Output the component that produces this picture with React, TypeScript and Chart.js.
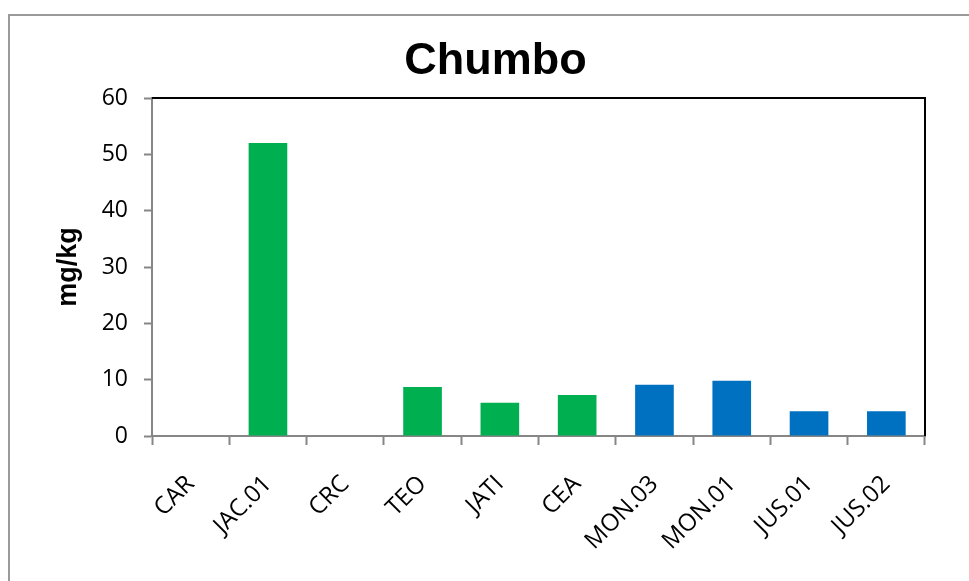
import React, { useEffect, useRef } from "react";
import { Chart, registerables } from "chart.js";

Chart.register(...registerables);

// Lead (chumbo) concentration per sampling site, in mg/kg
const sites = ["CAR", "JAC.01", "CRC", "TEO", "JATI", "CEA", "MON.03", "MON.01", "JUS.01", "JUS.02"];
const leadValues = [0, 52, 0, 8.7, 5.9, 7.3, 9.1, 9.8, 4.4, 4.4];
const siteGroups = ["g", "g", "g", "g", "g", "g", "b", "b", "b", "b"];
const yTicks = [0, 10, 20, 30, 40, 50, 60];

const GREEN = "#00B050";
const BLUE = "#0070C0";
const AXIS_GRAY = "#868686";

const W = 969;
const H = 581;

const framePlugin = {
  id: "frame",
  beforeDraw(chart: any) {
    const { ctx } = chart;
    ctx.save();
    ctx.fillStyle = "#ffffff";
    ctx.fillRect(0, 0, chart.width, chart.height);
    ctx.strokeStyle = "#9a9a9a";
    ctx.lineWidth = 2;
    ctx.strokeRect(9, 15, chart.width + 20, chart.height + 20);
    ctx.restore();
  },
  afterDraw(chart: any) {
    const { ctx, chartArea } = chart;
    ctx.save();
    ctx.strokeStyle = "#000000";
    ctx.lineWidth = 2;
    ctx.beginPath();
    ctx.moveTo(chartArea.left, chartArea.top);
    ctx.lineTo(chartArea.right, chartArea.top);
    ctx.lineTo(chartArea.right, chartArea.bottom);
    ctx.stroke();
    ctx.restore();
  },
};

export default function App() {
  const canvasRef = useRef<HTMLCanvasElement | null>(null);

  useEffect(() => {
    if (!canvasRef.current) return;
    const chart = new Chart(canvasRef.current, {
      type: "bar",
      data: {
        labels: sites,
        datasets: [
          {
            label: "Chumbo",
            data: leadValues,
            backgroundColor: siteGroups.map((g) => (g === "g" ? GREEN : BLUE)),
            borderWidth: 0,
            categoryPercentage: 1,
            barPercentage: 0.5,
          },
        ],
      },
      options: {
        responsive: false,
        animation: false,
        devicePixelRatio: 1,
        layout: { padding: { left: 66, right: W - 925, top: 0, bottom: 0 } },
        plugins: {
          legend: { display: false },
          tooltip: { enabled: false },
          title: {
            display: true,
            text: "Chumbo",
            color: "#000000",
            font: { family: "'Liberation Sans', Arial, sans-serif", size: 45, weight: "bold", lineHeight: 1.2 },
            padding: { top: 35, bottom: 9 },
          },
        },
        scales: {
          x: {
            afterFit: (scale: any) => {
              scale.height = H - 436;
            },
            grid: {
              display: true,
              offset: true,
              drawOnChartArea: false,
              drawTicks: true,
              tickLength: 9,
              color: AXIS_GRAY,
              tickColor: AXIS_GRAY,
              tickWidth: 2,
            },
            border: { display: true, color: AXIS_GRAY, width: 2 },
            ticks: {
              autoSkip: false,
              minRotation: 45,
              maxRotation: 45,
              padding: 25,
              color: "#000000",
              font: { family: "'Open Sans', sans-serif", size: 24 },
            },
          },
          y: {
            min: 0,
            max: 60,
            afterFit: (scale: any) => {
              scale.width = 86;
            },
            afterBuildTicks: (scale: any) => {
              scale.ticks = yTicks.map((v) => ({ value: v }));
            },
            grid: {
              display: true,
              drawOnChartArea: false,
              drawTicks: true,
              tickLength: 8,
              color: AXIS_GRAY,
              tickColor: AXIS_GRAY,
              tickWidth: 2,
            },
            border: { display: true, color: AXIS_GRAY, width: 2 },
            ticks: {
              padding: 16,
              color: "#000000",
              font: { family: "'Open Sans', sans-serif", size: 23 },
            },
            title: {
              display: true,
              text: "mg/kg",
              color: "#000000",
              font: { family: "'Liberation Sans', Arial, sans-serif", size: 27, weight: "bold", lineHeight: 1 },
              padding: { top: -11, bottom: 0 },
            },
          },
        },
      },
      plugins: [framePlugin],
    });
    return () => chart.destroy();
  }, []);

  return (
    <div style={{ position: "fixed", left: 0, top: 0, width: W, height: H, background: "#fff" }}>
      <canvas ref={canvasRef} width={W} height={H} style={{ display: "block" }} />
    </div>
  );
}
